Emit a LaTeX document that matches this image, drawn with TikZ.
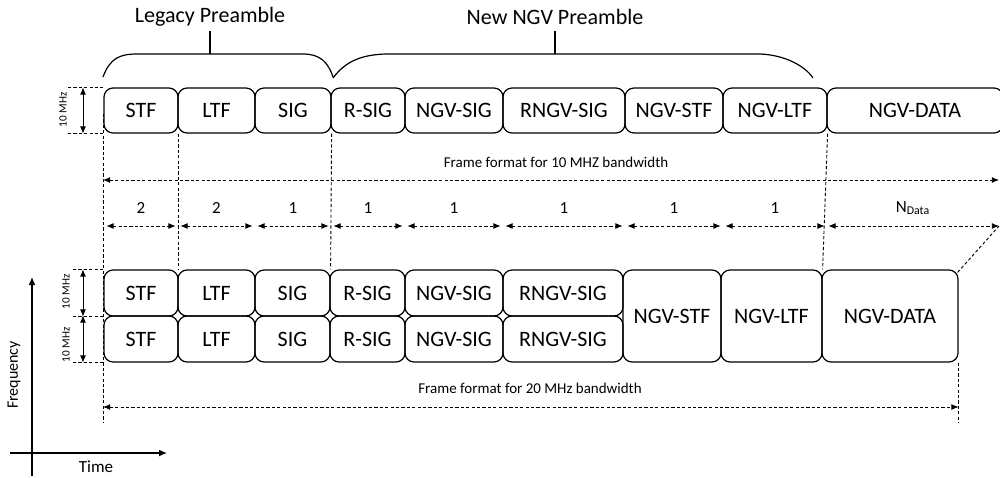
\documentclass[tikz,border=0pt]{standalone}
\usepackage{fontspec}
\setmainfont{Carlito}
\usetikzlibrary{arrows.meta,calc}

\newcommand\field[6]{%
  \node[fieldbox, minimum width={(#4-#2)*0.5pt}, minimum height={(#5-#3)*0.5pt}]
    (#1) at ({(#2+#4)/2},{(#3+#5)/2}) {#6};}

\tikzset{
  fieldbox/.style={draw, rounded corners=4.5pt, line width=0.6pt, inner sep=0pt,
    font=\fontsize{11}{13}\selectfont},
  guide/.style={line width=0.45pt, dash pattern=on 1.6pt off 1.1pt},
  dim/.style={guide, {Latex[length=3.6pt,width=3pt]}-{Latex[length=3.6pt,width=3pt]}},
  mhz/.style={line width=0.5pt, {Latex[length=3.6pt,width=3pt]}-{Latex[length=3.6pt,width=3pt]}},
  small/.style={font=\fontsize{7.5}{9}\selectfont},
  num/.style={font=\fontsize{8.5}{10}\selectfont},
  tiny/.style={font=\fontsize{5.6}{7}\selectfont, rotate=90, inner sep=0pt},
  title/.style={font=\fontsize{11}{13}\selectfont},
  bracket/.style={line width=0.6pt}
}

\begin{document}
\begin{tikzpicture}[x=0.5pt,y=-0.5pt]
\useasboundingbox (0,0) rectangle (1000,477);

% ---- 10 MHz frame (one channel) ----
\field{t1}{104}{88}{178}{133}{STF}
\field{t2}{178}{88}{255}{133}{LTF}
\field{t3}{255}{88}{331}{133}{SIG}
\field{t4}{331}{88}{405}{133}{R-SIG}
\field{t5}{405}{88}{503}{133}{NGV-SIG}
\field{t6}{503}{88}{625}{133}{RNGV-SIG}
\field{t7}{625}{88}{723}{133}{NGV-STF}
\field{t8}{723}{88}{827}{133}{NGV-LTF}
\field{t9}{827}{88}{1003}{133}{NGV-DATA}

% ---- 20 MHz frame (two channels) ----
\field{b1}{104}{270}{178}{316}{STF}
\field{b2}{178}{270}{255}{316}{LTF}
\field{b3}{255}{270}{330}{316}{SIG}
\field{b4}{330}{270}{405}{316}{R-SIG}
\field{b5}{405}{270}{503}{316}{NGV-SIG}
\field{b6}{503}{270}{623}{316}{RNGV-SIG}
\field{c1}{104}{316}{178}{362}{STF}
\field{c2}{178}{316}{255}{362}{LTF}
\field{c3}{255}{316}{330}{362}{SIG}
\field{c4}{330}{316}{405}{362}{R-SIG}
\field{c5}{405}{316}{503}{362}{NGV-SIG}
\field{c6}{503}{316}{623}{362}{RNGV-SIG}
\field{b7}{623}{270}{721}{362}{NGV-STF}
\field{b8}{721}{270}{822}{362}{NGV-LTF}
\field{b9}{822}{270}{958}{362}{NGV-DATA}

% ---- reference levels ----
\coordinate (rend) at (999,0);
\coordinate (mk) at (68,0);
\coordinate (mkb) at (73,0);
\coordinate (ma) at (83,0);
\coordinate (f10) at (0,180);
\coordinate (dur) at (0,226);
\coordinate (f20) at (0,407);
\coordinate (lowend) at (0,423);

% ---- preamble brackets ----
\node[title] (lp) at (210,17) {Legacy Preamble};
\node[title] (np) at (555,17) {New NGV Preamble};
\draw[bracket] (103,77) .. controls (110,58) and (120,54) .. (137,54) -- (303,54)
  .. controls (320,54) and (328,62) .. (333,77);
\draw[bracket] (333,78) .. controls (345,62) and (360,55) .. (385,54) -- (760,54)
  .. controls (785,55) and (805,66) .. (813,78);
\draw[bracket] (lp.south |- 0,54) -- (lp.south |- 0,31);
\draw[bracket] (np.south |- 0,54) -- (np.south |- 0,31);

% ---- vertical guide lines ----
\draw[guide] (103,114) -- (103,423);
\draw[guide] (t1.south east) -- (b1.north east);
\draw[guide] (t3.south east) -- (b3.north east);
\draw[guide] (t8.south east) -- (b8.north east);
\draw[guide] (b9.south east) -- (b9.south east |- lowend);
\draw[guide] ($(b9.north east)+(-1,3)$) -- (rend |- dur);

% ---- bandwidth markers ----
\draw[guide] (mk |- t1.north) -- (t1.north west);
\draw[guide] (mk |- t1.south) -- (t1.south west);
\draw[mhz] (ma |- t1.north) -- (ma |- t1.south);
\node[tiny] (m1) at (63,110) {10 MHz};
\draw[guide] (mkb |- b1.north) -- (b1.north west);
\draw[guide] (mkb |- b1.south) -- (b1.south west);
\draw[guide] (mkb |- c1.south) -- (c1.south west);
\draw[mhz] (ma |- b1.north) -- (ma |- b1.south);
\draw[mhz] (ma |- c1.north) -- (ma |- c1.south);
\node[tiny] (m2) at (66,292) {10 MHz};
\node[tiny] (m3) at (66,345) {10 MHz};

% ---- frame length arrows ----
\node[small] (l10) at (556,162) {Frame format for 10 MHZ bandwidth};
\draw[dim] (103,180) -- (rend |- f10);
\node[small] (l20) at (530,388) {Frame format for 20 MHz bandwidth};
\draw[dim] (103,407) -- (b9.east |- f20);

% ---- symbol durations ----
\foreach \b/\n in {t1/2,t2/2,t3/1,t4/1,t5/1,t6/1,t7/1,t8/1}{
  \draw[dim, shorten <=1.5pt, shorten >=1.5pt] (\b.west |- dur) -- (\b.east |- dur);
  \node[num] at ($(\b.west |- 0,208)!0.5!(\b.east |- 0,208)$) {\n};
}
\draw[dim, shorten <=1pt] (t9.west |- dur) -- (rend |- dur);
\node[num] (nd) at (913,208) {N\textsubscript{Data}};

% ---- time / frequency axes ----
\coordinate (o) at (32,453);
\draw[line width=0.6pt, -{Latex[length=4pt,width=3.4pt]}] (o |- 0,476) -- (o |- 0,277);
\draw[line width=0.6pt, -{Latex[length=4pt,width=3.4pt]}] (10,453) -- (167,453);
\node[font=\fontsize{8.5}{10}\selectfont] (tm) at (96,467) {Time};
\node[font=\fontsize{8}{10}\selectfont, rotate=90] (fq) at (14,375) {Frequency};
\end{tikzpicture}
\end{document}
